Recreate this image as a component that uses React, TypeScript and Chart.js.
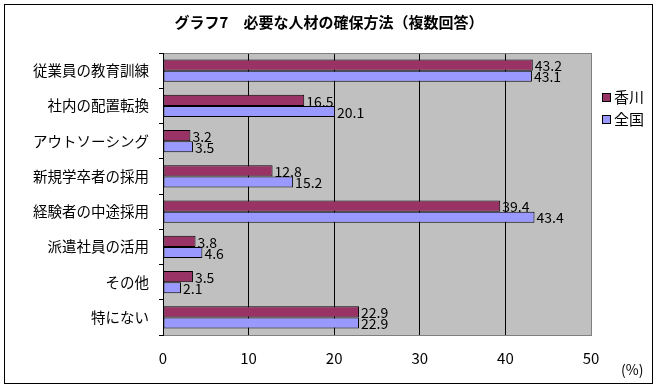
import React, { useEffect, useRef } from "react";
import { Chart, registerables } from "chart.js";

Chart.register(...registerables);

const TITLE = "グラフ7　必要な人材の確保方法（複数回答）";
const CATEGORIES = [
  "従業員の教育訓練",
  "社内の配置転換",
  "アウトソーシング",
  "新規学卒者の採用",
  "経験者の中途採用",
  "派遣社員の活用",
  "その他",
  "特にない",
];
const KAGAWA = [43.2, 16.5, 3.2, 12.8, 39.4, 3.8, 3.5, 22.9];
const ZENKOKU = [43.1, 20.1, 3.5, 15.2, 43.4, 4.6, 2.1, 22.9];
const SERIES_NAMES = ["香川", "全国"];
const X_MIN = 0;
const X_MAX = 50;
const X_STEP = 10;
const UNIT_LABEL = "(%)";

const FONT = "'Noto Sans CJK JP', 'Noto Sans', sans-serif";

const decorPlugin = {
  id: "decor",
  beforeDraw(chart: any) {
    const { ctx, chartArea } = chart;
    ctx.save();
    ctx.fillStyle = "#ffffff";
    ctx.fillRect(0, 0, chart.width, chart.height);
    ctx.fillStyle = "#C0C0C0";
    ctx.fillRect(chartArea.left, chartArea.top, chartArea.right - chartArea.left, chartArea.bottom - chartArea.top);
    ctx.restore();
  },
  afterDatasetsDraw(chart: any) {
    const { ctx, chartArea } = chart;
    ctx.save();
    ctx.strokeStyle = "#808080";
    ctx.lineWidth = 1;
    ctx.strokeRect(Math.round(chartArea.left) + 0.5, Math.round(chartArea.top) + 0.5,
      Math.round(chartArea.right - chartArea.left), Math.round(chartArea.bottom - chartArea.top));
    ctx.strokeStyle = "#000000";
    ctx.beginPath();
    ctx.moveTo(Math.round(chartArea.left) + 0.5, chartArea.top);
    ctx.lineTo(Math.round(chartArea.left) + 0.5, chartArea.bottom + 1);
    ctx.stroke();

    ctx.fillStyle = "#000000";
    ctx.font = `14px ${FONT}`;
    ctx.textAlign = "left";
    ctx.textBaseline = "middle";
    chart.data.datasets.forEach((ds: any, di: number) => {
      const meta = chart.getDatasetMeta(di);
      meta.data.forEach((bar: any, i: number) => {
        const v = ds.data[i];
        ctx.fillText(Number(v).toFixed(1), bar.x + 2, bar.y + 1);
      });
    });

    ctx.strokeStyle = "#000000";
    ctx.strokeRect(4.5, 4.5, 648, 379);

    ctx.font = `bold 15px ${FONT}`;
    ctx.textAlign = "center";
    ctx.textBaseline = "middle";
    ctx.fillText(TITLE, 329, 22);

    ctx.font = `14px ${FONT}`;
    ctx.textAlign = "left";
    ctx.fillText(UNIT_LABEL, 621, 370);

    const colors = ["#993366", "#9999FF"];
    const ys = [97, 119];
    ctx.font = `15px ${FONT}`;
    SERIES_NAMES.forEach((name, i) => {
      ctx.fillStyle = colors[i];
      ctx.fillRect(602, ys[i] - 4, 8, 8);
      ctx.strokeStyle = "#000";
      ctx.strokeRect(602.5, ys[i] - 4 + 0.5, 8, 8);
      ctx.fillStyle = "#000";
      ctx.fillText(name, 614, ys[i]);
    });
    ctx.restore();
  },
};

export default function App() {
  const ref = useRef<HTMLCanvasElement | null>(null);
  useEffect(() => {
    if (!ref.current) return;
    const chart = new Chart(ref.current, {
      type: "bar",
      data: {
        labels: CATEGORIES,
        datasets: [
          {
            label: SERIES_NAMES[0],
            data: KAGAWA,
            backgroundColor: "#993366",
            borderColor: "#000000",
            borderWidth: 1,
            borderSkipped: false,
            categoryPercentage: 0.63,
            barPercentage: 1,
          },
          {
            label: SERIES_NAMES[1],
            data: ZENKOKU,
            backgroundColor: "#9999FF",
            borderColor: "#000000",
            borderWidth: 1,
            borderSkipped: false,
            categoryPercentage: 0.63,
            barPercentage: 1,
          },
        ],
      },
      options: {
        indexAxis: "y",
        responsive: false,
        animation: false,
        devicePixelRatio: 1,
        layout: { padding: { top: 53, right: 67, left: 0, bottom: 0 } },
        plugins: {
          legend: { display: false },
          title: { display: false },
          tooltip: { enabled: false },
        },
        scales: {
          x: {
            min: X_MIN,
            max: X_MAX,
            ticks: {
              stepSize: X_STEP,
              color: "#000",
              font: { family: FONT, size: 15 },
              padding: 14,
            },
            grid: {
              color: (c: any) =>
                c.tick && c.tick.value > X_MIN && c.tick.value < X_MAX ? "#000000" : "rgba(0,0,0,0)",
              drawTicks: false,
            },
            border: { display: false },
            afterFit: (s: any) => {
              s.height = 53;
            },
          },
          y: {
            ticks: {
              color: "#000",
              font: { family: FONT, size: 14.5 },
              padding: 10,
            },
            grid: {
              offset: true,
              drawOnChartArea: false,
              drawTicks: true,
              tickLength: 4,
              color: "#000",
            },
            border: { display: true, color: "#000" },
            afterFit: (s: any) => {
              s.width = 163;
            },
          },
        },
      },
      plugins: [decorPlugin],
    });
    return () => chart.destroy();
  }, []);
  return (
    <div style={{ position: "fixed", left: 0, top: 0, width: 658, height: 388, background: "#fff" }}>
      <canvas ref={ref} width={658} height={388} style={{ display: "block" }} />
    </div>
  );
}
